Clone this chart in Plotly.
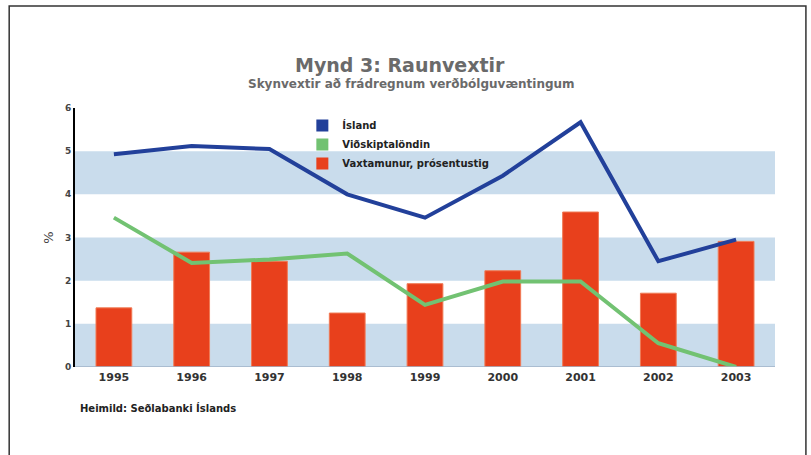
import plotly.graph_objects as go

years = ["1995", "1996", "1997", "1998", "1999", "2000", "2001", "2002", "2003"]
island = [4.93, 5.12, 5.05, 4.0, 3.46, 4.43, 5.67, 2.45, 2.95]
vidskiptalond = [3.46, 2.41, 2.49, 2.63, 1.44, 1.98, 1.98, 0.55, 0.0]
vaxtamunur = [1.37, 2.66, 2.45, 1.25, 1.93, 2.23, 3.59, 1.71, 2.91]
y_ticks = [0, 1, 2, 3, 4, 5, 6]
bands = [(0, 1), (2, 3), (4, 5)]

names = ["Ísland", "Viðskiptalöndin", "Vaxtamunur, prósentustig"]

fig = go.Figure()
fig.add_trace(go.Bar(x=years, y=vaxtamunur, name=names[2], width=0.46,
                     marker=dict(color="#e8401c", line=dict(color="#f07a55", width=1)),
                     showlegend=False))
fig.add_trace(go.Scatter(x=years, y=island, name=names[0], mode="lines",
                         line=dict(color="#22409a", width=4), showlegend=False))
fig.add_trace(go.Scatter(x=years, y=vidskiptalond, name=names[1], mode="lines",
                         line=dict(color="#72c272", width=4), showlegend=False, cliponaxis=False))

# legend entries as square markers
legend_colors = ["#22409a", "#72c272", "#e8401c"]
for n, c in zip(names, legend_colors):
    fig.add_trace(go.Scatter(x=[None], y=[None], mode="markers", name=n,
                             marker=dict(symbol="square", size=7, color=c)))

shapes = []
for lo, hi in bands:
    shapes.append(dict(type="rect", xref="paper", yref="y", x0=0, x1=1, y0=lo, y1=hi,
                       fillcolor="#c9dcec", line=dict(width=0), layer="below"))
# outer frame
shapes.append(dict(type="rect", xref="paper", yref="paper",
                   x0=(9 - 75) / 702, x1=(808 - 75) / 702,
                   y0=(367 - 470) / 259, y1=(367 - 6) / 259,
                   line=dict(color="#333333", width=1.5), fillcolor="rgba(0,0,0,0)"))
# bottom axis line
shapes.append(dict(type="line", xref="paper", yref="y", x0=0, x1=1, y0=0, y1=0,
                   line=dict(color="#9fb3c8", width=1.5)))

fig.update_layout(
    width=811, height=455,
    margin=dict(l=75, r=36, t=108, b=88),
    paper_bgcolor="white", plot_bgcolor="white",
    font=dict(family="DejaVu Sans", color="#333333"),
    shapes=shapes,
    bargap=0.54,
    legend=dict(x=(303 - 75) / 702, y=(367 - 111) / 259, xanchor="left", yanchor="top",
                bgcolor="rgba(0,0,0,0)", font=dict(size=10, color="#222222", weight="bold"),
                tracegroupgap=0, itemsizing="constant"),
    xaxis=dict(type="category", showgrid=False, zeroline=False, showline=False,
               ticks="", tickfont=dict(size=11, color="#333333", family="DejaVu Sans",
                                       weight="bold"),
               ticklabelstandoff=2),
    yaxis=dict(range=[0, 6], tickvals=y_ticks, showgrid=False, zeroline=False,
               showline=True, linecolor="#000000", linewidth=2,
               ticks="", tickfont=dict(size=9, color="#444444", weight="bold"),
               title=dict(text="%", font=dict(size=13, color="#444444"), standoff=8)),
    annotations=[
        dict(text="<b>Mynd 3: Raunvextir</b>", xref="paper", yref="paper",
             x=(401 - 75) / 702, y=(367 - 65) / 259, xanchor="center", yanchor="middle",
             showarrow=False, font=dict(size=19, color="#6a6a6a")),
        dict(text="<b>Skynvextir að frádregnum verðbólguvæntingum</b>", xref="paper",
             yref="paper", x=(412 - 75) / 702, y=(367 - 84) / 259, xanchor="center",
             yanchor="middle", showarrow=False, font=dict(size=12, color="#6a6a6a")),
        dict(text="<b>Heimild: Seðlabanki Íslands</b>", xref="paper", yref="paper",
             x=(78 - 75) / 702, y=(367 - 408) / 259, xanchor="left", yanchor="middle",
             showarrow=False, font=dict(size=10, color="#222222")),
    ],
)

fig.write_html("out.html", config={"displayModeBar": False},
               post_script="document.body.style.margin='0';")
